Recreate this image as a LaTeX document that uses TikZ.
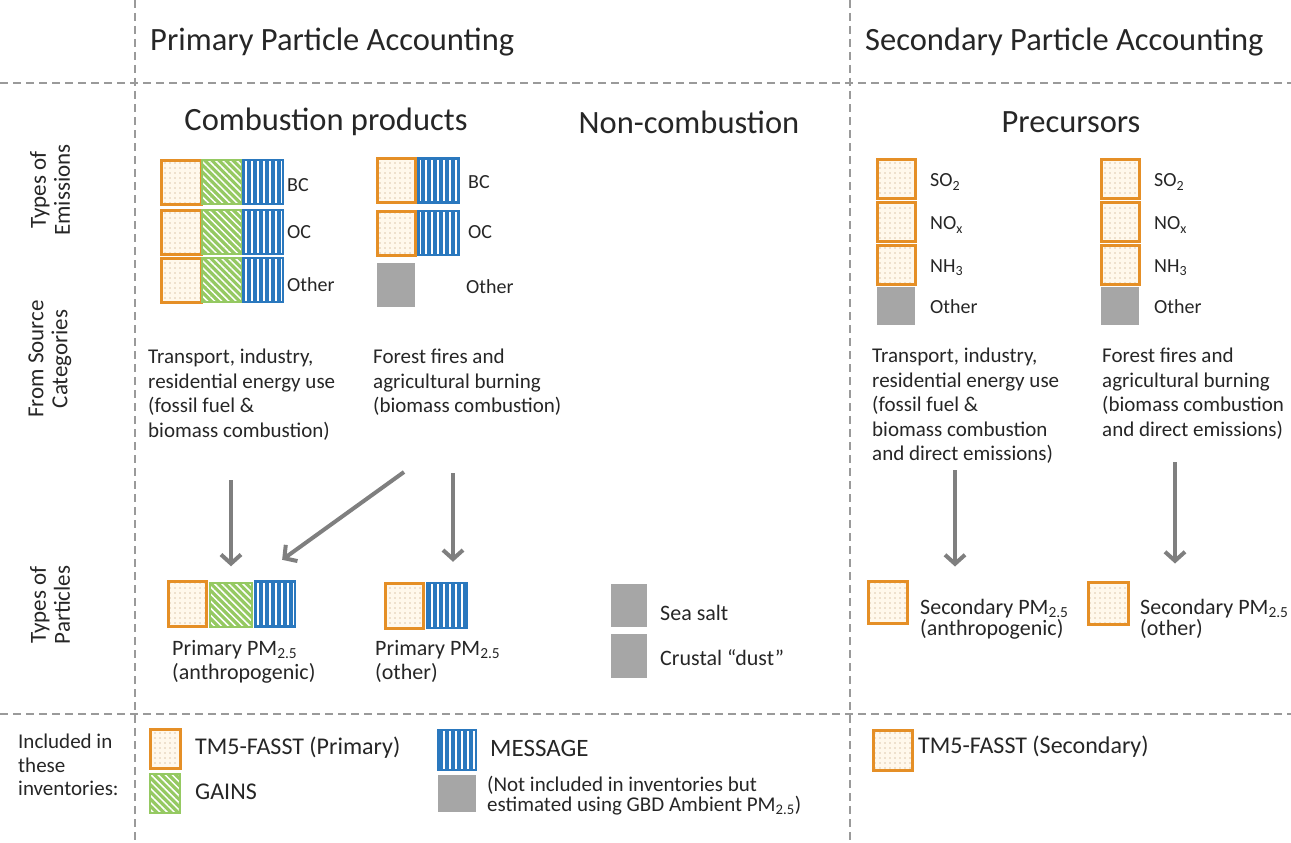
\documentclass[tikz,border=0pt]{standalone}
\usepackage{fontspec}
\setmainfont{Carlito}
\usetikzlibrary{arrows.meta, patterns.meta, positioning}
\definecolor{inktext}{HTML}{262626}
\definecolor{sepgray}{HTML}{9A9A9A}
\definecolor{tmorange}{HTML}{E58F26}
\definecolor{dotfill}{HTML}{FFF8EC}
\definecolor{dotink}{HTML}{B89468}
\definecolor{gainsgreen}{HTML}{95C962}
\definecolor{msgblue}{HTML}{2A78BE}
\definecolor{boxgray}{HTML}{A6A6A6}
\definecolor{arrowgray}{HTML}{7F7F7F}

\begin{document}
\begin{tikzpicture}[x=1pt, y=-1pt,
  every node/.style={inner sep=0pt, text=inktext},
  sep/.style={draw=sepgray, line width=1.2pt, dash pattern=on 8pt off 5pt},
  head/.style={font=\fontsize{32.5}{40}\selectfont},
  side/.style={font=\fontsize{23}{24}\selectfont, rotate=90, align=center},
  txt/.style={font=\fontsize{21}{24.5}\selectfont, align=left, anchor=north west},
  lbl/.style={font=\fontsize{20}{24}\selectfont, anchor=west},
  leg/.style={font=\fontsize{24}{30}\selectfont, anchor=west},
  orng/.style={draw=tmorange, line width=3pt, preaction={fill=dotfill}, pattern={Dots[distance=5pt, radius=0.7pt]}, pattern color=dotink, minimum width=38pt, minimum height=42pt},
  grn/.style={draw=gainsgreen, line width=1.5pt, preaction={fill=gainsgreen}, pattern={Lines[angle=-45, distance=5pt, line width=1.5pt]}, pattern color=white, minimum width=40pt, minimum height=44pt},
  blu/.style={draw=msgblue, line width=2.5pt, preaction={fill=msgblue}, pattern={Lines[angle=90, distance=6pt, line width=2.2pt]}, pattern color=white, minimum width=38pt, minimum height=42pt},
  gry/.style={fill=boxgray, minimum width=38pt, minimum height=42pt},
  arrow/.style={-{Straight Barb[length=9pt, width=20pt]}, line width=4pt, draw=arrowgray}
]
\useasboundingbox (0,0) rectangle (1291,843);

% grid of the table
\draw[sep] (135,0) -- (135,843);
\draw[sep] (850,0) -- (850,843);
\draw[sep] (0,83) -- (1291,83);
\draw[sep] (0,714) -- (1291,714);

% headings
\node[head, anchor=west] (prim) at (150,42) {Primary Particle Accounting};
\node[head, anchor=west] (secd) at (865,42) {Secondary Particle Accounting};
\node[head] (comb) at (326,122) {Combustion products};
\node[head] (nonc) at (689,122) {Non-combustion};
\node[head] (prec) at (1071,122) {Precursors};

% row titles
\node[side] (rowE) at (50,190) {Types of\\Emissions};
\node[side] (rowS) at (50,359) {From Source\\Categories};
\node[side] (rowP) at (50,605) {Types of\\Particles};

% emissions, anthropogenic combustion
\foreach \r/\y/\ly/\t in {1/182/185/BC, 2/232/232/OC, 3/280/285/Other} {
    \node[orng, minimum width=40pt, minimum height=44pt] (ea\r o) at (181,\y) {};
    \node[grn] (ea\r g) at (222,\y) {};
    \node[blu, minimum width=40pt, minimum height=44pt] (ea\r b) at (263,\y) {};
    \node[lbl] (ea\r t) at (287,\ly) {\t};
  }
% emissions, biomass combustion
\foreach \r/\y/\ly/\t in {1/180.5/182/BC, 2/233/232/OC} {
    \node[orng, minimum height=44pt] (eb\r o) at (396,\y) {};
    \node[blu, minimum width=40pt, minimum height=44pt] (eb\r b) at (438.5,\y) {};
    \node[lbl] (eb\r t) at (468,\ly) {\t};
  }
\node[gry, minimum height=44pt] (eb3o) at (396,285) {};
\node[lbl] (eb3t) at (466,287) {Other};

% precursors
\foreach \x/\n in {896/A, 1120/B} {
    \foreach \r/\y/\t in {1/179/{SO\textsubscript{2}}, 2/222/{NO\textsubscript{x}}, 3/264.5/{NH\textsubscript{3}}} {
        \node[orng, minimum height=39pt] (p\n\r) at (\x,\y) {};
        \node[lbl] (p\n\r t) at (\x+34,\y+3) {\t};
      }
    \node[gry, minimum height=38pt] (p\n4) at (\x,306) {};
    \node[lbl] (p\n4t) at (\x+34,307) {Other};
  }

% source categories
\node[txt] (srcA) at (148,349) {Transport, industry,\\residential energy use\\(fossil fuel \&\\biomass combustion)};
\node[txt] (srcB) at (373,349) {Forest fires and\\agricultural burning\\(biomass combustion)};
\node[txt] (srcC) at (872,348) {Transport, industry,\\residential energy use\\(fossil fuel \&\\biomass combustion\\and direct emissions)};
\node[txt] (srcD) at (1102,348) {Forest fires and\\agricultural burning\\(biomass combustion\\and direct emissions)};

% particles
\node[orng, minimum width=38pt, minimum height=45pt] (pa1) at (187,604) {};
\node[grn, minimum width=42pt] (pa2) at (231,605) {};
\node[blu, minimum width=40pt, minimum height=45pt] (pa3) at (275,604) {};
\node[txt, font=\fontsize{22}{24.5}\selectfont] (paT) at (172,640) {Primary PM\textsubscript{2.5}\\(anthropogenic)};
\node[orng, minimum height=45pt] (pb1) at (404,605.5) {};
\node[blu, minimum width=40pt, minimum height=45pt] (pb2) at (447,605.5) {};
\node[txt, font=\fontsize{22}{24.5}\selectfont] (pbT) at (375,640) {Primary PM\textsubscript{2.5}\\(other)};
\node[gry, minimum width=36pt, minimum height=43pt] (nc1) at (629,605.5) {};
\node[gry, minimum width=36pt, minimum height=44pt] (nc2) at (629,656) {};
\node[lbl, font=\fontsize{22}{24}\selectfont] (nc1t) at (660,613) {Sea salt};
\node[lbl, font=\fontsize{22}{24}\selectfont] (nc2t) at (660,658) {Crustal “dust”};
\node[orng, minimum width=39pt] (sa) at (887.5,602) {};
\node[txt, font=\fontsize{22}{21}\selectfont] (saT) at (920,599) {Secondary PM\textsubscript{2.5}\\(anthropogenic)};
\node[orng, minimum width=40pt] (sb) at (1108,603) {};
\node[txt, font=\fontsize{22}{21}\selectfont] (sbT) at (1140,599) {Secondary PM\textsubscript{2.5}\\(other)};

% arrows
\coordinate (tA) at (231,480);
\coordinate (tB) at (404,472);
\coordinate (tC) at (453,473);
\coordinate (tD) at (955,470);
\coordinate (tE) at (1175,462);
\draw[arrow, shorten >=16pt] (tA) -- (tA |- pa2.north);
\draw[arrow, shorten >=35pt] (tB) -- (pa3.north west);
\draw[arrow, shorten >=20pt] (tC) -- (tC |- pb2.north);
\draw[arrow, shorten >=13pt] (tD) -- (tD |- sa.north);
\draw[arrow, shorten >=17pt] (tE) -- (tE |- sb.north);

% inventories
\node[txt, font=\fontsize{21}{23.5}\selectfont] (incl) at (18,734) {Included in\\these\\inventories:};
\node[orng, minimum width=30pt, minimum height=39pt] (kTM) at (165,748.5) {};
\node[grn, minimum width=30pt, minimum height=39pt] (kGA) at (165,793.5) {};
\node[leg] (kTMt) at (195,748) {TM5-FASST (Primary)};
\node[leg] (kGAt) at (195,792) {GAINS};
\node[blu, minimum width=38pt, minimum height=40pt] (kME) at (457,750) {};
\node[gry, minimum width=38pt, minimum height=37pt] (kNI) at (457,793.5) {};
\node[leg, font=\fontsize{25}{30}\selectfont] (kMEt) at (490,748) {MESSAGE};
\node[txt, font=\fontsize{21}{20}\selectfont] (kNIt) at (487,776) {(Not included in inventories but\\estimated using GBD Ambient PM\textsubscript{2.5})};
\node[orng, minimum width=39pt, minimum height=40pt] (kTS) at (892.5,750) {};
\node[leg] (kTSt) at (918,747) {TM5-FASST (Secondary)};
\end{tikzpicture}
\end{document}
